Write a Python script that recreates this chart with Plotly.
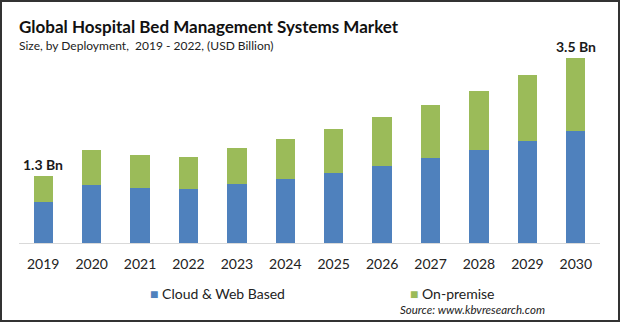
import plotly.graph_objects as go

years = ["2019", "2020", "2021", "2022", "2023", "2024", "2025", "2026", "2027", "2028", "2029", "2030"]
cloud = [0.78, 1.10, 1.04, 1.02, 1.12, 1.21, 1.32, 1.46, 1.61, 1.76, 1.93, 2.12]
onprem = [0.49, 0.66, 0.62, 0.61, 0.68, 0.76, 0.84, 0.92, 1.00, 1.12, 1.25, 1.38]
series_names = ["Cloud & Web Based", "On-premise"]
series_colors = ["#4F81BD", "#9BBB59"]
end_labels = {"2019": "1.3 Bn", "2030": "3.5 Bn"}
title = "Global Hospital Bed Management Systems Market"
subtitle = "Size, by Deployment,  2019 - 2022, (USD Billion)"
source = "Source: www.kbvresearch.com"

W, H = 620, 322
L, R, T, B = 19, 20, 40, 79
PW, PH = W - L - R, H - T - B
YMAX = 3.84

def px(x):
    return (x - L) / PW

def py(y):
    return (H - B - y) / PH

FONT = "Lato"

fig = go.Figure()
for name, vals, col in zip(series_names, [cloud, onprem], series_colors):
    fig.add_trace(go.Bar(x=years, y=vals, name=name, marker=dict(color=col, line=dict(width=0)),
                         width=0.40, showlegend=False))

totals = [a + b for a, b in zip(cloud, onprem)]
for i, (yr, tot) in enumerate(zip(years, totals)):
    if yr in end_labels:
        fig.add_annotation(x=i, y=tot, text="<b>" + end_labels[yr] + "</b>", showarrow=False,
                           yanchor="bottom", yshift=1, font=dict(family=FONT, size=14, color="#1a1a1a"))

# title and subtitle
fig.add_annotation(xref="paper", yref="paper", x=px(17), y=py(27), xanchor="left", yanchor="middle",
                   text="<b>" + title + "</b>", showarrow=False, font=dict(family=FONT, size=17, color="#111111"))
fig.add_annotation(xref="paper", yref="paper", x=px(17), y=py(46), xanchor="left", yanchor="middle",
                   text=subtitle, showarrow=False, font=dict(family=FONT, size=12, color="#222222"))

# legend (manual)
leg_x = [148, 408]
for name, col, lx in zip(series_names, series_colors, leg_x):
    fig.add_annotation(xref="paper", yref="paper", x=px(lx), y=py(293), xanchor="left", yanchor="middle",
                       text="<span style='color:%s'>■</span> %s" % (col, name), showarrow=False,
                       font=dict(family=FONT, size=14, color="#222222"))

fig.add_annotation(xref="paper", yref="paper", x=px(547), y=py(309), xanchor="right", yanchor="middle",
                   text="<i>" + source + "</i>", showarrow=False, font=dict(family=FONT, size=11.5, color="#222222"))

# frame
fig.add_shape(type="rect", xref="paper", yref="paper", x0=px(1), x1=px(W - 1), y0=py(H - 1), y1=py(1),
              line=dict(color="#333333", width=2), layer="above")

fig.update_layout(
    width=W, height=H, margin=dict(l=L, r=R, t=T, b=B, pad=0),
    barmode="stack", bargap=0.6, plot_bgcolor="white", paper_bgcolor="white",
    xaxis=dict(type="category", range=[-0.5, 11.5], showline=True, linecolor="#d9d9d9", linewidth=1, ticks="",
               tickfont=dict(family=FONT, size=14, color="#222222"), showgrid=False, zeroline=False,
               ticklabelstandoff=8),
    yaxis=dict(range=[0, YMAX], visible=False, showgrid=False, zeroline=False),
)

fig.write_html("out.html")
